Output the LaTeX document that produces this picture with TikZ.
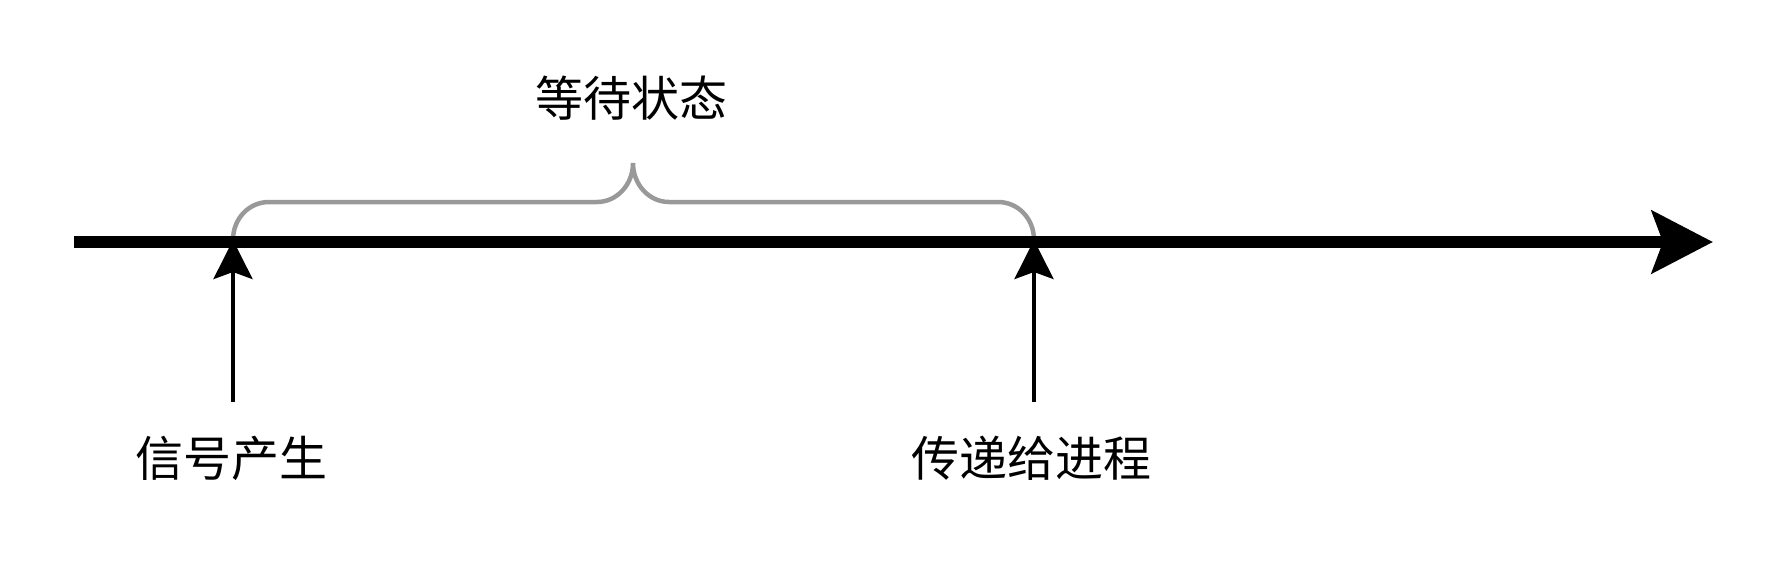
\documentclass[tikz,border=0pt]{standalone}
\usepackage{fontspec}
\newfontfamily\cjk{Noto Sans CJK SC}
\usetikzlibrary{arrows.meta}
\tikzset{
  axis/.style={line width=12pt, -{Stealth[length=61pt,width=62pt,inset=11pt]}},
  marker/.style={line width=4pt, -{Stealth[length=39pt,width=39pt,inset=7pt]}},
  bracepath/.style={line width=4.5pt, draw=bracegrey},
  lbl/.style={font=\cjk\fontsize{48}{56}\selectfont, inner sep=0pt}
}
\definecolor{bracegrey}{HTML}{999999}
\begin{document}
\begin{tikzpicture}[x=1pt,y=-1pt]
\useasboundingbox (0,0) rectangle (1792,560);
\coordinate (start) at (74,242);
\coordinate (end) at (1713,242);
\coordinate (s) at (233,240);
\coordinate (t) at (1034,240);
\coordinate (sb) at (233,402);
\coordinate (tb) at (1034,402);
\coordinate (tip) at (633,163);
\node[lbl] (l1) at (231.5,458) {信号产生};
\node[lbl] (l2) at (1031.5,458) {传递给进程};
\node[lbl] (l3) at (631.5,98) {等待状态};
% brace
\draw[bracepath] (233,240) .. controls (233,218.5) and (249,202) .. (269,202)
  -- (597,202) .. controls (617,202) and (633,184.5) .. (tip)
  .. controls (633,184.5) and (649,202) .. (669,202)
  -- (998,202) .. controls (1018,202) and (1034,218.5) .. (1034,240);
% axis
\draw[axis] (start) -- (end);
% markers
\draw[marker] (sb) -- (s);
\draw[marker] (tb) -- (t);
\end{tikzpicture}
\end{document}
